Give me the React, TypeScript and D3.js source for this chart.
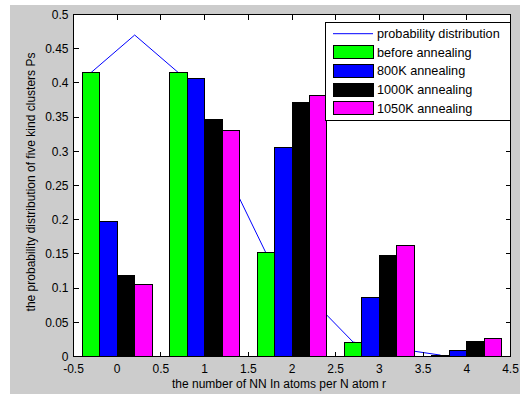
import * as d3 from "d3";

// group positions on the x axis
const categories = [0, 1, 2, 3, 4];
const seriesNames = ["before annealing", "800K annealing", "1000K annealing", "1050K annealing"];
const seriesColors = ["#00ff00", "#0000ff", "#000000", "#ff00ff"];

// values
const beforeAnnealing = [0.415, 0.415, 0.152, 0.021, 0.002];
const anneal800 = [0.198, 0.406, 0.306, 0.086, 0.009];
const anneal1000 = [0.119, 0.346, 0.372, 0.147, 0.022];
const anneal1050 = [0.105, 0.331, 0.381, 0.163, 0.026];

// the thin blue "probability distribution" line
const probX = [-0.3, 0.2, 0.7, 1.7, 2.7, 3.7];
const probY = [0.415, 0.47, 0.415, 0.152, 0.021, 0.002];

const xTicks = [-0.5, 0, 0.5, 1, 1.5, 2, 2.5, 3, 3.5, 4, 4.5];
const yTicks = [0, 0.05, 0.1, 0.15, 0.2, 0.25, 0.3, 0.35, 0.4, 0.45, 0.5];

const W = 526;
const H = 394;
const FONT = "'Liberation Sans', Arial, sans-serif";

export default function App() {
  const x = d3.scaleLinear().domain([-0.5, 4.5]).range([73.5, 510.5]);
  const y = d3.scaleLinear().domain([0, 0.5]).range([356.5, 14.5]);
  // offset of each series inside a group (data units)
  const sub = d3.scaleBand<string>().domain(seriesNames).range([-0.4, 0.4]);

  const allSeries = [beforeAnnealing, anneal800, anneal1000, anneal1050];

  const line = d3
    .line<number>()
    .x((_, i) => x(probX[i]))
    .y((d) => y(d));

  const [x0, x1] = x.range();
  const [y0, y1] = y.range();
  const tickLen = 5;

  const legendRows = [33.7, 52.3, 70.9, 89.5, 108.1];

  return (
    <svg
      width={W}
      height={H}
      style={{ position: "absolute", left: 0, top: 0 }}
      fontFamily={FONT}
      fontSize={12}
    >
      <rect x={0} y={0} width={W} height={H} fill="#ffffff" />
      <rect x={10} y={5} width={510} height={H - 5} fill="#cccccc" />
      <rect x={x0} y={y1} width={x1 - x0} height={y0 - y1} fill="#ffffff" />

      {/* probability distribution, drawn under the bars */}
      <path d={line(probY) || ""} fill="none" stroke="#0000ff" strokeWidth={1} />

      {allSeries.map((vals, si) => (
        <g key={si} fill={seriesColors[si]} stroke="#000" strokeWidth={1} shapeRendering="crispEdges">
          {vals.map((v, ci) => {
            const left = x(categories[ci] + (sub(seriesNames[si]) as number));
            const right = x(categories[ci] + (sub(seriesNames[si]) as number) + sub.bandwidth());
            return (
              <rect
                key={ci}
                x={left}
                y={y(v)}
                width={right - left}
                height={y(0) - y(v)}
              />
            );
          })}
        </g>
      ))}

      {/* axes box and ticks */}
      <g stroke="#000" strokeWidth={1} shapeRendering="crispEdges">
        <rect x={x0} y={y1} width={x1 - x0} height={y0 - y1} fill="none" />
        {xTicks.map((t) => (
          <g key={"xt" + t}>
            <line x1={x(t)} x2={x(t)} y1={y0} y2={y0 - tickLen} />
            <line x1={x(t)} x2={x(t)} y1={y1} y2={y1 + tickLen} />
          </g>
        ))}
        {yTicks.map((t) => (
          <g key={"yt" + t}>
            <line x1={x0} x2={x0 + tickLen} y1={y(t)} y2={y(t)} />
            <line x1={x1} x2={x1 - tickLen} y1={y(t)} y2={y(t)} />
          </g>
        ))}
      </g>

      <g fill="#000">
        {xTicks.map((t) => (
          <text key={"xl" + t} x={x(t)} y={372.5} textAnchor="middle">
            {String(t)}
          </text>
        ))}
        {yTicks.map((t) => (
          <text key={"yl" + t} x={68.5} y={y(t) + 4.3} textAnchor="end">
            {String(t)}
          </text>
        ))}
        <text x={279} y={388} textAnchor="middle">
          the number of NN In atoms per N atom r
        </text>
        <text transform="translate(34.5,182) rotate(-90)" textAnchor="middle">
          the probability distribution of five kind clusters Ps
        </text>
      </g>

      {/* legend */}
      <g fontSize={12.7}>
        <rect x={325.5} y={22.5} width={185} height={98} fill="#ffffff" stroke="#000" shapeRendering="crispEdges" />
        <line x1={333} x2={373} y1={legendRows[0]} y2={legendRows[0]} stroke="#0000ff" strokeWidth={1} />
        <text x={377} y={legendRows[0] + 4.5} fill="#000">
          probability distribution
        </text>
        {seriesNames.map((name, i) => (
          <g key={name}>
            <rect
              x={333.5}
              y={legendRows[i + 1] - 6.5}
              width={40}
              height={13}
              fill={seriesColors[i]}
              stroke="#000"
              shapeRendering="crispEdges"
            />
            <text x={377} y={legendRows[i + 1] + 4.5} fill="#000">
              {name}
            </text>
          </g>
        ))}
      </g>
    </svg>
  );
}
